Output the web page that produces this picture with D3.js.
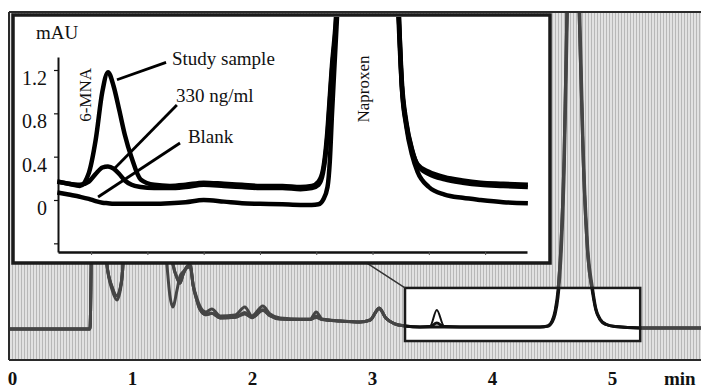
<!DOCTYPE html>
<html><head><meta charset="utf-8">
<script src="https://cdn.jsdelivr.net/npm/d3@7"></script>
<style>
html,body{margin:0;padding:0;background:#fff;}
svg{display:block;}
text{font-family:"Liberation Serif","Times New Roman",serif;fill:#111;}
</style></head>
<body>
<svg id="chart" width="701" height="388"></svg>
<script>
// ---------- DATA ----------
// Main chromatogram (time in min, signal in mAU-like units)
const tMain = [-0.03,0.65,0.665,0.68,0.73,0.79,0.835,0.875,0.91,0.925,0.94,1.23,1.29,1.315,1.34,1.375,1.4,1.425,1.46,1.485,1.51,1.54,1.565,1.615,1.665,1.735,1.86,1.94,2.0,2.09,2.15,2.235,2.4,2.485,2.535,2.585,2.735,2.9,2.985,3.06,3.115,3.19,3.275,3.4,3.485,3.54,3.6,3.735,4.065,4.4,4.465,4.5,4.525,4.55,4.575,4.6,4.625,4.675,4.725,4.76,4.8,4.835,4.865,4.9,4.95,5.025,5.235,5.75];
const mainStudy = [-0.07,-0.07,8,15,15,4.6,2.7,2.0,3.1,4.6,8,10,4.6,2.36,1.5,2.7,3.7,4.0,4.3,4.36,3.07,2.14,1.57,1.14,1.36,0.86,0.93,1.5,0.86,1.57,1.0,0.71,0.64,0.64,1.14,0.64,0.5,0.43,0.57,1.43,0.71,0.29,0.14,0.07,0.14,1.29,0.14,0.07,0.07,0.07,0.15,0.5,1.2,2.7,6,12,23,40,23,12,5,2.7,1.3,0.6,0.25,0.1,0,0];
const main330 = [-0.07,-0.07,8,15,15,4.6,2.9,2.29,3.2,4.6,8,10,8,6,4.6,3.57,3.2,3.8,4.4,4.5,3.0,2.0,1.35,0.95,1.05,0.72,0.76,1.1,0.74,1.3,0.88,0.64,0.6,0.6,0.85,0.6,0.5,0.43,0.57,1.43,0.71,0.29,0.14,0.07,0.1,0.35,0.1,0.07,0.07,0.07,0.15,0.5,1.2,2.7,6,12,23,40,23,12,5,2.7,1.3,0.6,0.25,0.1,0,0];
const mainBlank = [-0.07,-0.07,8,15,15,4.6,2.9,2.29,3.2,4.6,8,10,8,6,4.6,3.57,3.2,3.8,4.4,4.5,3.0,2.0,1.35,0.95,1.05,0.72,0.76,1.0,0.74,1.25,0.88,0.64,0.6,0.6,0.75,0.6,0.5,0.43,0.57,1.35,0.71,0.29,0.14,0.07,0.07,0.07,0.07,0.07,0.07,0.07,0.12,0.4,0.95,2.2,5,10.5,21,40,25,13,5.5,3,1.4,0.65,0.27,0.1,0,0];
const mainTicks = [0,1,2,3,4,5];
const mainUnit = "min";

// Inset (expanded view, mAU)
const tInset = [3.30,3.35,3.40,3.44,3.47,3.50,3.525,3.55,3.575,3.60,3.63,3.67,3.73,3.80,3.87,3.95,4.04,4.12,4.20,4.30,4.38,4.43,4.46,4.48,4.50,4.51,4.52,4.535,4.55,4.60,4.675,4.75,4.80,4.815,4.83,4.85,4.875,4.90,4.95,5.02,5.10,5.18,5.28,5.39];
const insetStudy = [0.17,0.15,0.13,0.25,0.55,1.0,1.18,1.05,0.83,0.6,0.39,0.19,0.14,0.13,0.14,0.16,0.15,0.14,0.13,0.13,0.12,0.13,0.17,0.28,0.65,0.95,1.25,1.6,2.2,5,6,5,2.5,1.7,1.05,0.7,0.46,0.33,0.26,0.21,0.18,0.16,0.15,0.14];
const inset330 = [0.17,0.15,0.14,0.17,0.24,0.3,0.31,0.29,0.24,0.18,0.14,0.12,0.11,0.11,0.12,0.14,0.13,0.12,0.11,0.11,0.1,0.11,0.14,0.25,0.6,0.9,1.2,1.55,2.1,5,6,5,2.6,1.8,1.1,0.72,0.47,0.32,0.24,0.19,0.16,0.14,0.13,0.12];
const insetBlank = [0.07,0.05,0.03,0.01,-0.01,-0.025,-0.03,-0.035,-0.035,-0.035,-0.035,-0.035,-0.035,-0.03,-0.02,0.0,-0.015,-0.03,-0.035,-0.04,-0.045,-0.045,-0.04,0.0,0.12,0.35,0.8,1.4,2.0,4.5,6,5,2.6,1.8,1.05,0.68,0.42,0.26,0.12,0.05,0.02,0,-0.02,-0.03];
const insetYTicks = [-0.4,0,0.4,0.8,1.2];
const insetYLabels = ["","0","0.4","0.8","1.2"];
const insetXTicks = [3.45,3.7,3.95,4.2,4.45,4.7,4.95,5.2];
const insetUnit = "mAU";

// Annotations (label text, label anchor [t, mAU], leader from -> to)
const seriesNames = ["Study sample","330 ng/ml","Blank"];
const labelPos = [[3.809,1.246],[3.827,0.905],[3.880,0.526]];
const leaderFrom = [[3.783,1.27],[3.831,0.877],[3.845,0.526]];
const leaderTo = [[3.565,1.11],[3.556,0.295],[3.481,0.028]];
const peakNames = ["6-MNA","Naproxen"];
const peakLabelPos = [[3.45,0.97],[4.684,1.025]];

// ---------- LAYOUT ----------
const svg = d3.select("#chart");
const frame = {x0:9, x1:701, y0:12, y1:360};
const inset = {x0:13, x1:550, y0:15, y1:263};
const zoomBox = {t0:3.275, t1:5.235, v0:-0.93, v1:2.86};

const xM = d3.scaleLinear().domain([0,5]).range([12,612]);
const yM = d3.scaleLinear().domain([-2.286,22.5]).range([360,13]);
const xIn = d3.scaleLinear().domain([3.303,5.386]).range([58,527]);
const yIn = d3.scaleLinear().domain([-0.48,1.32]).range([252,57]);

const defs = svg.append("defs");
const pat = defs.append("pattern").attr("id","stripes").attr("width",3).attr("height",4).attr("patternUnits","userSpaceOnUse");
pat.append("rect").attr("width",3).attr("height",4).attr("fill","#e2e2e2");
pat.append("rect").attr("width",1).attr("height",4).attr("fill","#b8b8b8");

defs.append("clipPath").attr("id","clipFrame").append("rect")
  .attr("x",frame.x0).attr("y",frame.y0).attr("width",frame.x1-frame.x0).attr("height",frame.y1-frame.y0);
const bx0 = xM(zoomBox.t0), bx1 = xM(zoomBox.t1), by0 = yM(zoomBox.v1), by1 = yM(zoomBox.v0);
defs.append("clipPath").attr("id","clipBox").append("rect")
  .attr("x",bx0).attr("y",by0).attr("width",bx1-bx0).attr("height",by1-by0);
defs.append("clipPath").attr("id","clipInset").append("rect")
  .attr("x",inset.x0+1.5).attr("y",inset.y0+2).attr("width",inset.x1-inset.x0-3).attr("height",inset.y1-inset.y0-3.5);

// background
svg.append("rect").attr("x",frame.x0).attr("y",frame.y0).attr("width",frame.x1-frame.x0).attr("height",frame.y1-frame.y0)
  .attr("fill","url(#stripes)");

const lineM = d3.line().x(d=>xM(d[0])).y(d=>yM(d[1])).curve(d3.curveMonotoneX);
const mainSeries = [mainStudy, main330, mainBlank];

const gMain = svg.append("g").attr("clip-path","url(#clipFrame)");
mainSeries.forEach(s=>{
  gMain.append("path").datum(tMain.map((t,i)=>[t,s[i]]))
    .attr("d",lineM).attr("fill","none").attr("stroke","#454545").attr("stroke-width",3).attr("stroke-linejoin","round");
});

// frame lines
svg.append("line").attr("x1",frame.x0).attr("x2",frame.x1).attr("y1",frame.y0).attr("y2",frame.y0).attr("stroke","#2a2a2a").attr("stroke-width",2);
svg.append("line").attr("x1",frame.x0).attr("x2",frame.x1).attr("y1",frame.y1).attr("y2",frame.y1).attr("stroke","#2a2a2a").attr("stroke-width",2);
svg.append("line").attr("x1",frame.x0).attr("x2",frame.x0).attr("y1",frame.y0).attr("y2",frame.y1).attr("stroke","#2a2a2a").attr("stroke-width",2);

// zoom box
svg.append("rect").attr("x",bx0).attr("y",by0).attr("width",bx1-bx0).attr("height",by1-by0).attr("fill","#fff");
const gBox = svg.append("g").attr("clip-path","url(#clipBox)");
mainSeries.forEach((s,k)=>{
  gBox.append("path").datum(tMain.map((t,i)=>[t,s[i]]))
    .attr("d",lineM).attr("fill","none").attr("stroke","#111").attr("stroke-width",k===0?2:3).attr("stroke-linejoin","round");
});
svg.append("rect").attr("x",bx0).attr("y",by0).attr("width",bx1-bx0).attr("height",by1-by0)
  .attr("fill","none").attr("stroke","#1a1a1a").attr("stroke-width",2.5);

// connector
svg.append("line").attr("x1",xM(2.958)).attr("y1",yM(4.64)).attr("x2",bx0).attr("y2",by0)
  .attr("stroke","#333").attr("stroke-width",1.5);

// main x axis labels
const axM = d3.axisBottom(xM).tickValues(mainTicks).tickSize(0).tickFormat(d3.format("d"));
const gAx = svg.append("g").call(axM);
gAx.select(".domain").remove();
gAx.selectAll("text").attr("y",385).attr("dy",null).attr("font-size",19).attr("font-weight","bold")
  .attr("font-family","'Liberation Serif','Times New Roman',serif").attr("fill","#111");
svg.append("text").attr("x",664).attr("y",385).attr("font-size",19).attr("font-weight","bold").text(mainUnit);

// ---------- INSET ----------
svg.append("rect").attr("x",inset.x0).attr("y",inset.y0).attr("width",inset.x1-inset.x0).attr("height",inset.y1-inset.y0)
  .attr("fill","#fff").attr("stroke","#1a1a1a").attr("stroke-width",3.5);

const axY = d3.axisLeft(yIn).tickValues(insetYTicks).tickSize(4).tickSizeOuter(0).tickPadding(7)
  .tickFormat((d,i)=>insetYLabels[i]);
const gY = svg.append("g").attr("transform",`translate(${xIn.range()[0]},0)`).call(axY);
gY.select(".domain").attr("stroke","#111").attr("stroke-width",2);
gY.selectAll(".tick line").attr("stroke","#111").attr("stroke-width",1.2);
gY.selectAll("text").attr("font-size",20).attr("y",8).attr("fill","#111")
  .attr("font-family","'Liberation Serif','Times New Roman',serif");

const axX = d3.axisBottom(xIn).tickValues(insetXTicks).tickSize(3).tickSizeOuter(0).tickFormat("");
const gX = svg.append("g").attr("transform",`translate(0,${yIn.range()[0]})`).call(axX);
gX.select(".domain").attr("stroke","#111").attr("stroke-width",2.6);
gX.selectAll(".tick line").attr("stroke","#555").attr("stroke-width",1);

svg.append("text").attr("x",xIn(3.205)).attr("y",yIn(1.487)).attr("font-size",19).text(insetUnit);

const lineIn = d3.line().x(d=>xIn(d[0])).y(d=>yIn(d[1])).curve(d3.curveMonotoneX);
const gIn = svg.append("g").attr("clip-path","url(#clipInset)");
[insetBlank, inset330, insetStudy].forEach(s=>{
  gIn.append("path").datum(tInset.map((t,i)=>[t,s[i]]))
    .attr("d",lineIn).attr("fill","none").attr("stroke","#000").attr("stroke-width",4.5).attr("stroke-linejoin","round");
});

// leaders and labels
seriesNames.forEach((name,i)=>{
  svg.append("line").attr("x1",xIn(leaderFrom[i][0])).attr("y1",yIn(leaderFrom[i][1]))
    .attr("x2",xIn(leaderTo[i][0])).attr("y2",yIn(leaderTo[i][1]))
    .attr("stroke","#000").attr("stroke-width",2.8);
  svg.append("text").attr("x",xIn(labelPos[i][0])).attr("y",yIn(labelPos[i][1])).attr("font-size",19).text(name);
});
peakNames.forEach((name,i)=>{
  const x = xIn(peakLabelPos[i][0]), y = yIn(peakLabelPos[i][1]);
  svg.append("text").attr("transform",`translate(${x},${y}) rotate(-90)`).attr("text-anchor","middle")
    .attr("font-size",17).text(name);
});
</script>
</body></html>
